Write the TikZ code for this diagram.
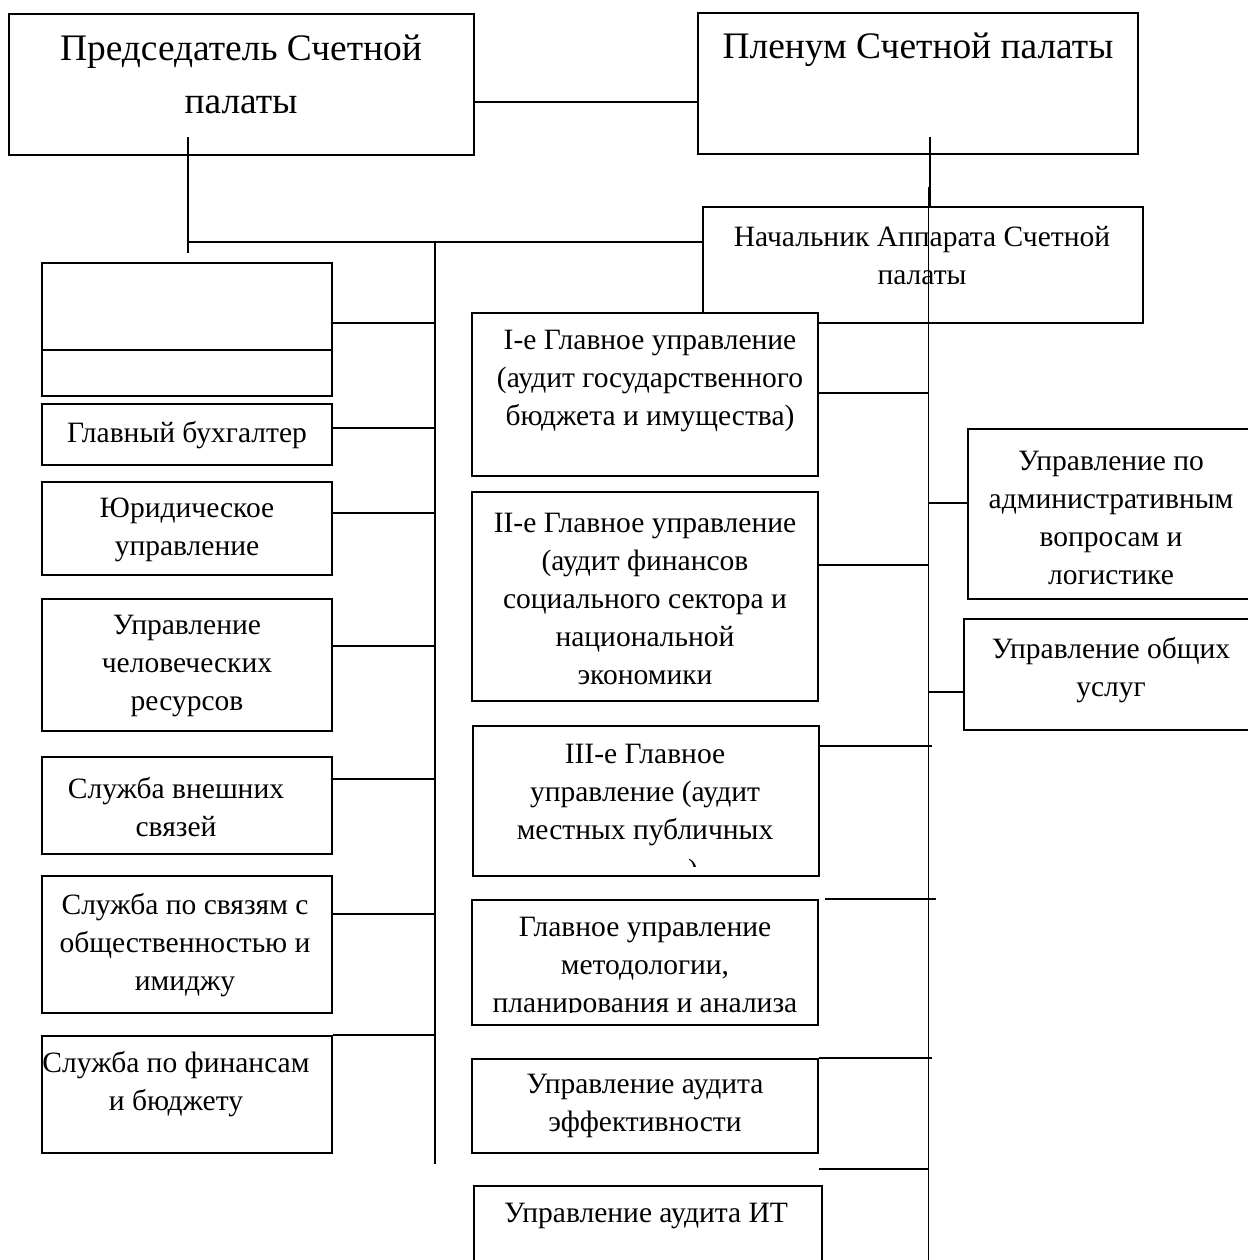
\documentclass[tikz,border=0pt]{standalone}
\usepackage{fontspec}
\setmainfont{Liberation Serif}
\usetikzlibrary{fit,calc}

\begin{document}
\begin{tikzpicture}[
    x=0.02cm, y=-0.02cm,
    unit/.style={draw, line width=1.1pt, fill=white, inner sep=0pt},
    txt/.style={align=center, inner sep=0pt, font=\fontsize{16.8}{21.6}\selectfont},
    bigtxt/.style={align=center, inner sep=0pt, font=\fontsize{21.3}{30.1}\selectfont},
    link/.style={line width=1pt},
    hairlink/.style={line width=0.6pt},
]
\useasboundingbox (0,0) rectangle (1247,1260);

% === Top level ===
\node[unit, fit={(9,14) (474,155)}] (chair) {};
\node[bigtxt] (chairt) at (241,74) {Председатель Счетной\\палаты};
\node[unit, fit={(698,13) (1138,154)}] (plenum) {};
\node[bigtxt] (plenumt) at (918,50) {Пленум Счетной палаты};
\node[unit, fit={(703,207) (1143,323)}] (head) {};
\node[txt] (headt) at (922,256) {Начальник Аппарата Счетной\\палаты};

% === Left column ===
\node[unit, fit={(42,263) (332,350)}] (blank) {};
\node[unit, fit={(42,350) (332,396)}] (blanksub) {};
\node[unit, fit={(42,404) (332,465)}] (acct) {};
\node[txt] (acctt) at (187,435) {Главный бухгалтер};
\node[unit, fit={(42,482) (332,575)}] (legal) {};
\node[txt] (legalt) at (187,530) {Юридическое\\управление};
\node[unit, fit={(42,599) (332,731)}] (hr) {};
\node[txt] (hrt) at (187,666) {Управление\\человеческих\\ресурсов};
\node[unit, fit={(42,757) (332,854)}] (extrel) {};
\node[txt] (extrelt) at (176,807) {Служба внешних\\связей};
\node[unit, fit={(42,876) (332,1013)}] (pubrel) {};
\node[txt] (pubrelt) at (185,945) {Служба по связям с\\общественностью и\\имиджу};
\node[unit, fit={(42,1036) (332,1153)}] (fin) {};
\node[txt] (fint) at (176,1084) {Служба по финансам\\и бюджету};

% === Middle column ===
\node[unit, fit={(472,313) (818,476)}] (gdone) {};
\node[txt] (gdonet) at (650,381) {I-е Главное управление\\(аудит государственного\\бюджета и имущества)};
\node[unit, fit={(472,492) (818,701)}] (gdtwo) {};
\node[txt] (gdtwot) at (645,599) {II-е Главное управление\\(аудит финансов\\социального сектора и\\национальной\\экономики};
\node[unit, fit={(473,726) (819,876)}] (gdthree) {};
\node[txt] (gdthreet) at (645,795) {III-е Главное\\управление (аудит\\местных публичных};
\begin{scope}
  \clip (600,856) rectangle (760,866);
  \node[txt, anchor=base] (gdthreecut) at (693,879) {)};
\end{scope}
\node[unit, fit={(472,900) (818,1025)}] (method) {};
\begin{scope}
  \clip (472,900) rectangle (818,1012);
  \node[txt] (methodt) at (645,968) {Главное управление\\методологии,\\планирования и анализа};
\end{scope}
\node[unit, fit={(472,1059) (818,1153)}] (perf) {};
\node[txt] (perft) at (645,1106) {Управление аудита\\эффективности};
\node[unit, fit={(474,1186) (822,1300)}] (itaud) {};
\node[txt] (itaudt) at (646,1216) {Управление аудита ИТ};

% === Right column ===
\node[unit, fit={(968,429) (1280,599)}] (admin) {};
\node[txt] (admint) at (1111,518) {Управление по\\административным\\вопросам и\\логистике};
\node[unit, fit={(964,619) (1280,730)}] (gensvc) {};
\node[txt] (gensvct) at (1111,670) {Управление общих\\услуг};

% === Buses ===
\coordinate (ctap) at (188,137);
\coordinate (ptap) at (930,137);
\coordinate (lbus) at (435,242);
\coordinate (lbusend) at (435,1164);
\coordinate (rbus) at (928.5,187);
\coordinate (rbusend) at (928.5,1270);

\draw[link] (chair.east |- 0,102) -- (plenum.west |- 0,102);
\draw[link] (ctap) -- ++(0,116);
\draw[link] (ctap |- lbus) -- (lbus -| head.west);
\draw[link] (lbus) -- (lbusend);
\draw[hairlink] (ptap) -- (ptap |- head.north);
\draw[link] (rbus) -- (rbusend);

% left taps
\draw[link] (blank.east |- 0,323) -- (lbus |- 0,323);
\draw[link] (acct.east |- 0,428) -- (lbus |- 0,428);
\draw[link] (legal.east |- 0,513) -- (lbus |- 0,513);
\draw[link] (hr.east |- 0,646) -- (lbus |- 0,646);
\draw[link] (extrel.east |- 0,779) -- (lbus |- 0,779);
\draw[link] (pubrel.east |- 0,914) -- (lbus |- 0,914);
\draw[link] (fin.north east) -- (lbus |- fin.north);

% right taps
\draw[link] (gdone.east |- 0,393) -- (rbus |- 0,393);
\draw[link] (gdtwo.east |- 0,565) -- (rbus |- 0,565);
\draw[link] (gdthree.east |- 0,746) -- ($(rbus |- 0,746)+(3,0)$);
\draw[link] ($(method.east |- 0,899)+(6,0)$) -- ($(rbus |- 0,899)+(7,0)$);
\draw[link] (perf.north east) -- ($(rbus |- perf.north)+(3,0)$);
\draw[link] (perf.east |- 0,1169) -- (rbus |- 0,1169);
\draw[link] (rbus |- 0,503) -- (admin.west |- 0,503);
\draw[link] (rbus |- 0,692) -- (gensvc.west |- 0,692);

\end{tikzpicture}
\end{document}
